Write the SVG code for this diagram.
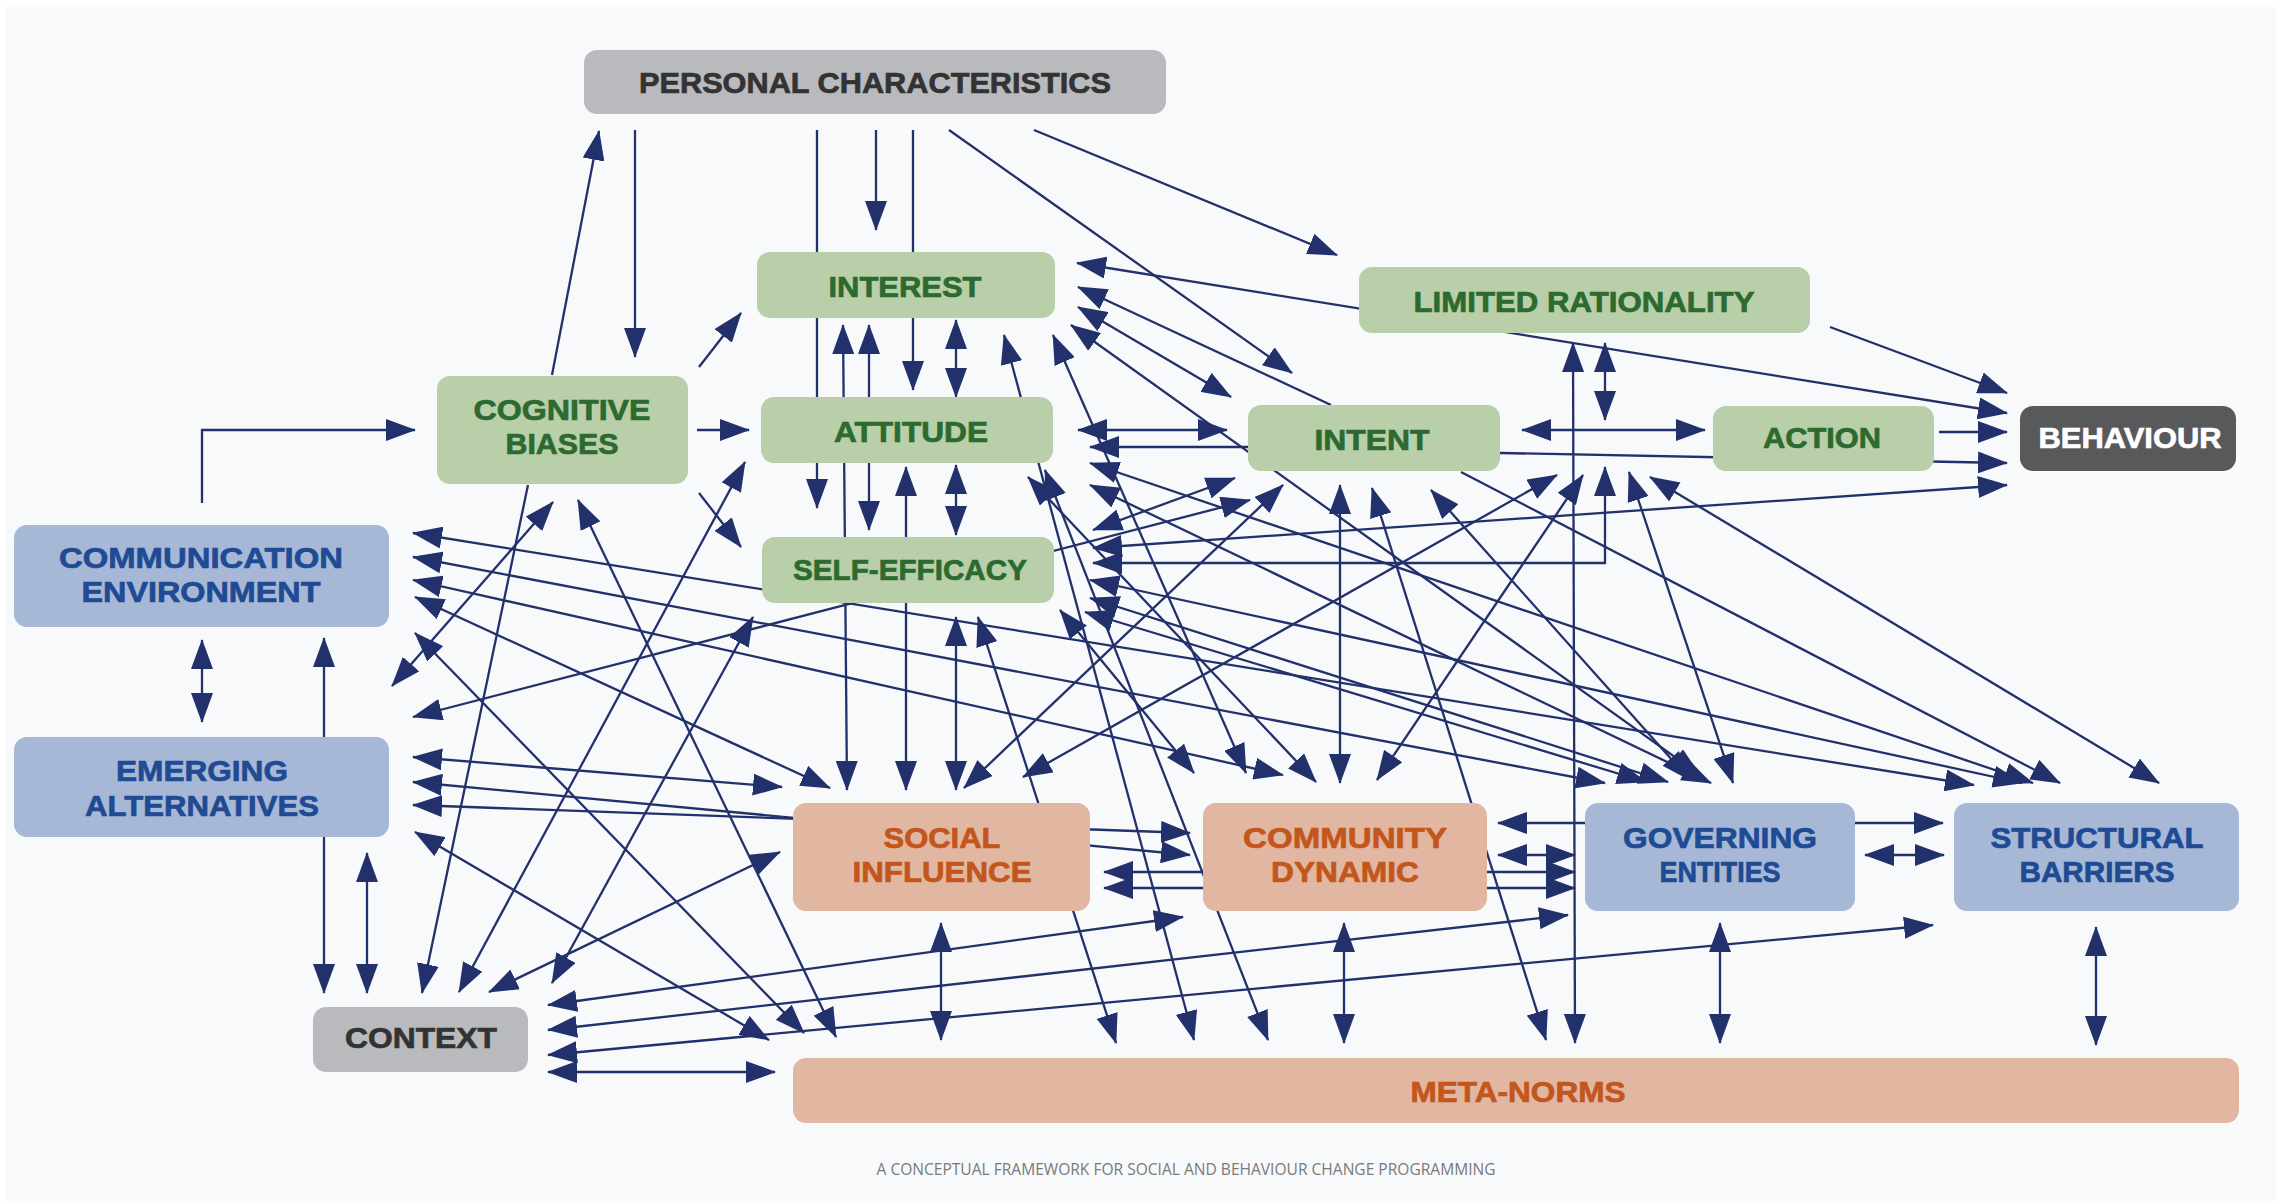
<svg xmlns="http://www.w3.org/2000/svg" width="2285" height="1201" viewBox="0 0 2285 1201">
<defs>
<marker id="ah" markerUnits="userSpaceOnUse" markerWidth="30" markerHeight="22" refX="29" refY="11" orient="auto-start-reverse"><path d="M0,0 L30,11 L0,22 z" fill="#22306b"/></marker>
<style>
.c line,.c polyline{stroke:#22306b;stroke-width:2.3;fill:none;marker-end:url(#ah)}
.c .d{marker-start:url(#ah)}
.g rect{fill:#b8cfa9}.g text{fill:#2c6a30;stroke:#2c6a30}
.b rect{fill:#a6b8d6}.b text{fill:#1f4a94;stroke:#1f4a94}
.p rect{fill:#e2b7a1}.p text{fill:#c2561d;stroke:#c2561d}
.k rect{fill:#b9babd}.k text{fill:#333;stroke:#333}
.n text{font-family:"Liberation Sans",Arial,sans-serif;font-weight:bold;font-size:30px;text-anchor:middle;stroke-width:0.7}
</style>
</defs>
<rect x="0" y="0" width="2285" height="1201" fill="#ffffff"/>
<rect x="5" y="7" width="2271" height="1194" fill="#f7f9fb"/>
<g class="c" id="connectors">
<line x1="552" y1="375" x2="599" y2="131"/>
<line x1="635" y1="130" x2="635" y2="357"/>
<line x1="817" y1="130" x2="817" y2="508"/>
<line x1="876" y1="130" x2="876" y2="230"/>
<line x1="913" y1="130" x2="913" y2="390"/>
<line x1="949" y1="130" x2="1292" y2="373"/>
<line x1="1034" y1="130" x2="1337" y2="255"/>
<line class="d" x1="1077" y1="263" x2="2007" y2="413"/>
<line x1="1830" y1="327" x2="2007" y2="393"/>
<line x1="699" y1="367" x2="741" y2="313"/>
<line x1="697" y1="430" x2="749" y2="430"/>
<line x1="699" y1="493" x2="741" y2="547"/>
<line class="d" x1="956" y1="320" x2="956" y2="397"/>
<line class="d" x1="956" y1="465" x2="956" y2="535"/>
<line class="d" x1="843" y1="325" x2="847" y2="790"/>
<line class="d" x1="869" y1="325" x2="869" y2="530"/>
<line class="d" x1="906" y1="467" x2="906" y2="790"/>
<line class="d" x1="956" y1="617" x2="956" y2="790"/>
<line class="d" x1="978" y1="617" x2="1116" y2="1043"/>
<polyline points="202,503 202,430 415,430"/>
<line class="d" x1="202" y1="640" x2="202" y2="722"/>
<line x1="324" y1="737" x2="324" y2="638"/>
<line x1="324" y1="837" x2="324" y2="993"/>
<line class="d" x1="367" y1="853" x2="367" y2="993"/>
<line x1="528" y1="485" x2="422" y2="993"/>
<line class="d" x1="745" y1="462" x2="459" y2="992"/>
<line class="d" x1="753" y1="617" x2="552" y2="983"/>
<line class="d" x1="489" y1="992" x2="780" y2="852"/>
<line class="d" x1="548" y1="1005" x2="1183" y2="917"/>
<line class="d" x1="548" y1="1030" x2="1568" y2="915"/>
<line class="d" x1="548" y1="1055" x2="1933" y2="925"/>
<line class="d" x1="548" y1="1072" x2="775" y2="1072"/>
<line class="d" x1="941" y1="923" x2="941" y2="1040"/>
<line class="d" x1="1344" y1="923" x2="1344" y2="1043"/>
<line class="d" x1="1720" y1="923" x2="1720" y2="1043"/>
<line class="d" x1="2096" y1="927" x2="2096" y2="1045"/>
<line class="d" x1="1573" y1="343" x2="1575" y2="1043"/>
<line class="d" x1="1605" y1="343" x2="1605" y2="420"/>
<line class="d" x1="1078" y1="430" x2="1227" y2="430"/>
<line class="d" x1="1522" y1="430" x2="1705" y2="430"/>
<line x1="1500" y1="453" x2="2007" y2="463"/>
<line x1="1939" y1="432" x2="2007" y2="432"/>
<line x1="1855" y1="823" x2="1943" y2="823"/>
<line class="d" x1="1865" y1="855" x2="1944" y2="855"/>
<line x1="1585" y1="823" x2="1498" y2="823"/>
<line class="d" x1="1498" y1="855" x2="1575" y2="855"/>
<line class="d" x1="1104" y1="872" x2="1575" y2="872"/>
<line class="d" x1="1104" y1="888" x2="1575" y2="888"/>
<line class="d" x1="413" y1="757" x2="782" y2="787"/>
<line class="d" x1="413" y1="805" x2="1190" y2="833"/>
<line class="d" x1="413" y1="782" x2="1190" y2="855"/>
<line class="d" x1="415" y1="832" x2="769" y2="1040"/>
<line class="d" x1="415" y1="633" x2="804" y2="1033"/>
<line class="d" x1="578" y1="500" x2="836" y2="1037"/>
<line class="d" x1="553" y1="502" x2="392" y2="686"/>
<line class="d" x1="413" y1="717" x2="1250" y2="500"/>
<line class="d" x1="413" y1="533" x2="1974" y2="785"/>
<line class="d" x1="413" y1="557" x2="1605" y2="783"/>
<line class="d" x1="413" y1="580" x2="1283" y2="775"/>
<line class="d" x1="415" y1="597" x2="830" y2="788"/>
<line class="d" x1="1093" y1="548" x2="2007" y2="485"/>
<polyline class="d" points="1093,563 1605,563 1605,467"/>
<line x1="1248" y1="447" x2="1090" y2="447"/>
<line x1="1331" y1="405" x2="1078" y2="287"/>
<line class="d" x1="1078" y1="307" x2="1231" y2="397"/>
<line class="d" x1="1071" y1="325" x2="1700" y2="775"/>
<line class="d" x1="1004" y1="335" x2="1194" y2="1040"/>
<line class="d" x1="1053" y1="335" x2="1246" y2="773"/>
<line class="d" x1="1340" y1="485" x2="1340" y2="783"/>
<line class="d" x1="1372" y1="488" x2="1546" y2="1040"/>
<line class="d" x1="1431" y1="490" x2="1690" y2="780"/>
<line class="d" x1="964" y1="788" x2="1283" y2="485"/>
<line class="d" x1="1093" y1="530" x2="1235" y2="478"/>
<line class="d" x1="1377" y1="780" x2="1583" y2="475"/>
<line class="d" x1="1023" y1="777" x2="1557" y2="475"/>
<line class="d" x1="1650" y1="477" x2="2159" y2="783"/>
<line x1="1461" y1="472" x2="2060" y2="783"/>
<line class="d" x1="1090" y1="463" x2="2033" y2="783"/>
<line class="d" x1="1629" y1="472" x2="1733" y2="783"/>
<line class="d" x1="1090" y1="485" x2="1711" y2="783"/>
<line class="d" x1="1090" y1="580" x2="2022" y2="783"/>
<line class="d" x1="1090" y1="598" x2="1668" y2="782"/>
<line class="d" x1="1085" y1="612" x2="1646" y2="782"/>
<line class="d" x1="1028" y1="477" x2="1316" y2="782"/>
<line class="d" x1="1045" y1="470" x2="1268" y2="1040"/>
<line class="d" x1="1060" y1="610" x2="1194" y2="773"/>
</g>
<g class="n k" id="personal-characteristics"><rect x="584" y="50" width="582" height="64" rx="13"/><text x="875" y="93" textLength="472" lengthAdjust="spacingAndGlyphs">PERSONAL CHARACTERISTICS</text></g>
<g class="n g" id="interest"><rect x="757" y="252" width="298" height="66" rx="13"/><text x="905" y="297" textLength="153" lengthAdjust="spacingAndGlyphs">INTEREST</text></g>
<g class="n g" id="attitude"><rect x="761" y="397" width="292" height="66" rx="13"/><text x="911" y="442" textLength="154" lengthAdjust="spacingAndGlyphs">ATTITUDE</text></g>
<g class="n g" id="self-efficacy"><rect x="762" y="537" width="292" height="66" rx="13"/><text x="910" y="580" textLength="234" lengthAdjust="spacingAndGlyphs">SELF-EFFICACY</text></g>
<g class="n g" id="cognitive-biases"><rect x="437" y="376" width="251" height="108" rx="13"/><text x="562" y="420" textLength="177" lengthAdjust="spacingAndGlyphs">COGNITIVE</text><text x="562" y="454" textLength="113" lengthAdjust="spacingAndGlyphs">BIASES</text></g>
<g class="n g" id="limited-rationality"><rect x="1359" y="267" width="451" height="66" rx="13"/><text x="1584" y="312" textLength="341" lengthAdjust="spacingAndGlyphs">LIMITED RATIONALITY</text></g>
<g class="n g" id="intent"><rect x="1248" y="405" width="252" height="66" rx="13"/><text x="1372" y="450" textLength="115" lengthAdjust="spacingAndGlyphs">INTENT</text></g>
<g class="n g" id="action"><rect x="1713" y="406" width="221" height="65" rx="13"/><text x="1822" y="448" textLength="118" lengthAdjust="spacingAndGlyphs">ACTION</text></g>
<g class="n" id="behaviour"><rect x="2020" y="406" width="216" height="65" rx="13" fill="#58595b"/><text x="2130" y="448" fill="#ffffff" stroke="#ffffff" textLength="183" lengthAdjust="spacingAndGlyphs">BEHAVIOUR</text></g>
<g class="n b" id="communication-environment"><rect x="14" y="525" width="375" height="102" rx="13"/><text x="201" y="568" textLength="284" lengthAdjust="spacingAndGlyphs">COMMUNICATION</text><text x="201" y="602" textLength="239" lengthAdjust="spacingAndGlyphs">ENVIRONMENT</text></g>
<g class="n b" id="emerging-alternatives"><rect x="14" y="737" width="375" height="100" rx="13"/><text x="202" y="781" textLength="172" lengthAdjust="spacingAndGlyphs">EMERGING</text><text x="202" y="816" textLength="234" lengthAdjust="spacingAndGlyphs">ALTERNATIVES</text></g>
<g class="n k" id="context"><rect x="313" y="1007" width="215" height="65" rx="13"/><text x="421" y="1048" textLength="152" lengthAdjust="spacingAndGlyphs">CONTEXT</text></g>
<g class="n p" id="social-influence"><rect x="793" y="803" width="297" height="108" rx="13"/><text x="942" y="848" textLength="117" lengthAdjust="spacingAndGlyphs">SOCIAL</text><text x="942" y="882" textLength="179" lengthAdjust="spacingAndGlyphs">INFLUENCE</text></g>
<g class="n p" id="community-dynamic"><rect x="1203" y="803" width="284" height="108" rx="13"/><text x="1345" y="848" textLength="204" lengthAdjust="spacingAndGlyphs">COMMUNITY</text><text x="1345" y="882" textLength="148" lengthAdjust="spacingAndGlyphs">DYNAMIC</text></g>
<g class="n b" id="governing-entities"><rect x="1585" y="803" width="270" height="108" rx="13"/><text x="1720" y="848" textLength="194" lengthAdjust="spacingAndGlyphs">GOVERNING</text><text x="1720" y="882" textLength="121" lengthAdjust="spacingAndGlyphs">ENTITIES</text></g>
<g class="n b" id="structural-barriers"><rect x="1954" y="803" width="285" height="108" rx="13"/><text x="2097" y="848" textLength="213" lengthAdjust="spacingAndGlyphs">STRUCTURAL</text><text x="2097" y="882" textLength="155" lengthAdjust="spacingAndGlyphs">BARRIERS</text></g>
<g class="n p" id="meta-norms"><rect x="793" y="1058" width="1446" height="65" rx="13"/><text x="1518" y="1102" textLength="215" lengthAdjust="spacingAndGlyphs">META-NORMS</text></g>
<text x="1186" y="1175" font-family="'Open Sans','Liberation Sans',sans-serif" font-size="16" fill="#7a7a7a" text-anchor="middle" textLength="619" lengthAdjust="spacingAndGlyphs">A CONCEPTUAL FRAMEWORK FOR SOCIAL AND BEHAVIOUR CHANGE PROGRAMMING</text>
</svg>
